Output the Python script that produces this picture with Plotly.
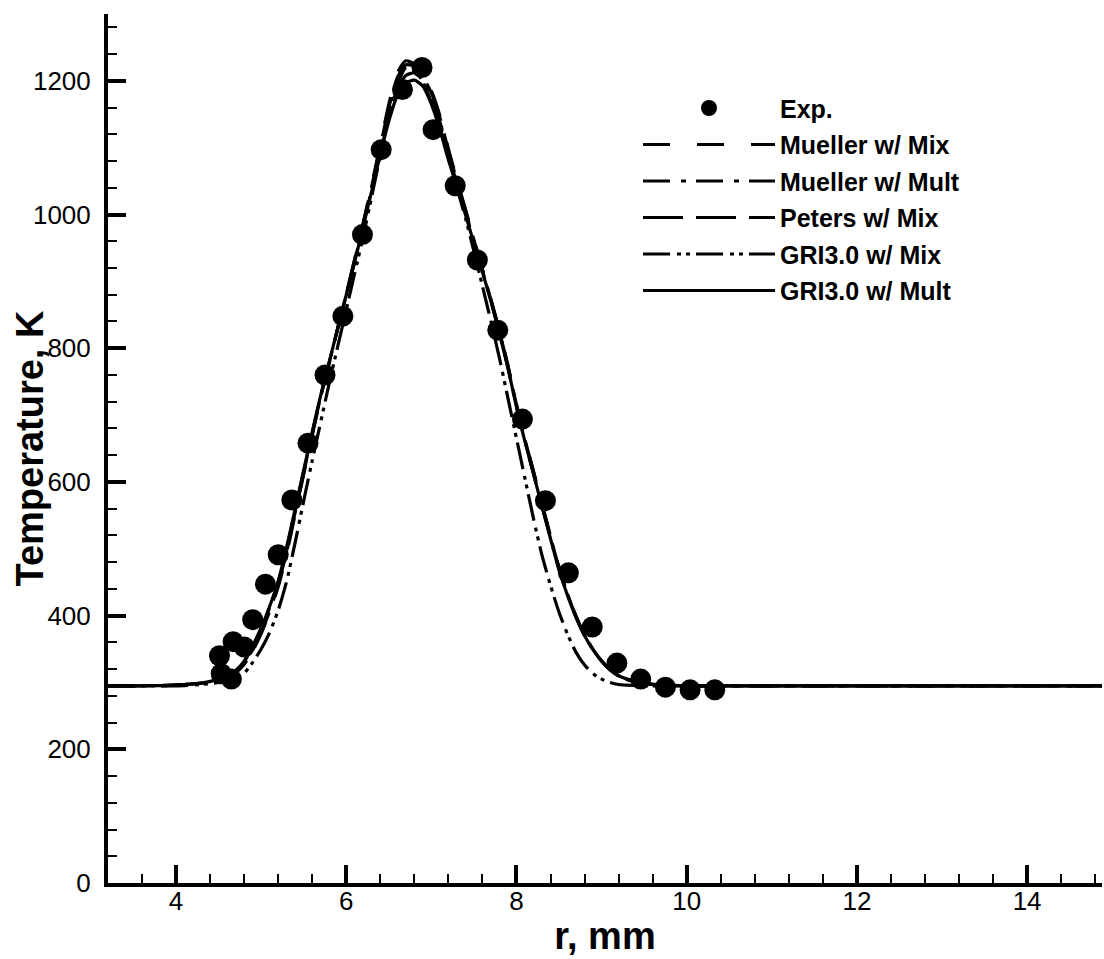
import plotly.graph_objects as go

# ---------------- data ----------------
r_exp = [4.51, 4.53, 4.65, 4.67, 4.80, 4.90, 5.05, 5.20, 5.36, 5.55, 5.75, 5.96, 6.19,
         6.41, 6.66, 6.89, 7.02, 7.28, 7.54, 7.78, 8.07, 8.34, 8.61, 8.89, 9.18, 9.46,
         9.75, 10.04, 10.33]
T_exp = [340, 313, 305, 361, 353, 394, 447, 491, 573, 658, 760, 848, 970,
         1097, 1187, 1220, 1127, 1043, 932, 827, 694, 572, 464, 383, 329, 305,
         293, 289, 289]

r_grid = [3.2, 3.6, 4.0, 4.3, 4.5, 4.6, 4.7, 4.8, 4.9, 5.0, 5.1, 5.2, 5.3, 5.4, 5.5,
          5.6, 5.7, 5.8, 5.9, 6.0, 6.1, 6.2, 6.3, 6.4, 6.5, 6.6, 6.7, 6.8, 6.9, 7.0,
          7.1, 7.2, 7.3, 7.4, 7.5, 7.6, 7.7, 7.8, 7.9, 8.0, 8.1, 8.2, 8.3, 8.4, 8.5,
          8.6, 8.7, 8.8, 8.9, 9.0, 9.1, 9.2, 9.3, 9.45, 9.6, 9.8, 10.0, 11.0, 12.0,
          13.0, 14.88]

T_mueller_mix = [295, 295, 296, 299, 304, 308, 315, 326, 347, 373, 405, 443, 493, 552, 612,
                 670, 727, 778, 830, 882, 934, 988, 1045, 1105, 1165, 1212, 1230, 1225, 1208, 1185,
                 1148, 1098, 1052, 1008, 963, 918, 873, 826, 774, 716, 664, 616, 567, 519, 472,
                 433, 399, 371, 349, 332, 319, 310, 304, 299, 297, 296, 295, 295, 295,
                 295, 295]

T_mueller_mult = [295, 295, 296, 299, 305, 310, 317, 331, 353, 380, 412, 450, 501, 558, 616,
                  673, 728, 779, 830, 880, 931, 984, 1038, 1094, 1146, 1188, 1208, 1212, 1202, 1176,
                  1138, 1090, 1046, 1004, 960, 916, 871, 824, 771, 713, 661, 612, 564, 516, 469,
                  431, 398, 370, 349, 332, 319, 310, 305, 300, 297, 296, 295, 295, 295,
                  295, 295]

T_peters_mix = [295, 295, 296, 299, 304, 308, 315, 327, 348, 375, 407, 446, 496, 555, 614,
                672, 728, 779, 830, 881, 933, 987, 1043, 1102, 1160, 1205, 1224, 1222, 1206, 1182,
                1145, 1096, 1050, 1006, 962, 917, 872, 825, 773, 715, 663, 615, 566, 518, 471,
                432, 399, 371, 349, 332, 319, 310, 304, 299, 297, 296, 295, 295, 295,
                295, 295]

T_gri_mix = [295, 295, 295, 297, 300, 304, 308, 314, 330, 350, 375, 408, 452, 510, 572,
             632, 690, 748, 803, 858, 913, 968, 1028, 1088, 1148, 1194, 1220, 1218, 1198, 1168,
             1128, 1085, 1040, 995, 945, 893, 840, 785, 725, 665, 605, 545, 490, 445, 405,
             372, 345, 326, 313, 305, 300, 297, 296, 295, 295, 295, 295, 295, 295,
             295, 295]

T_gri_mult = [295, 295, 296, 299, 305, 310, 318, 332, 355, 382, 414, 452, 503, 560, 618,
              675, 730, 780, 830, 880, 930, 983, 1036, 1090, 1140, 1178, 1197, 1201, 1192, 1165,
              1127, 1082, 1041, 1000, 957, 914, 870, 822, 770, 712, 660, 612, 563, 515, 468,
              430, 397, 370, 349, 332, 319, 310, 305, 300, 297, 296, 295, 295, 295,
              295, 295]

x_range = [3.2, 14.88]
y_range = [0, 1300]

FONT = "Liberation Sans, Arial, sans-serif"

fig = go.Figure()

fig.add_trace(go.Scatter(
    x=r_exp, y=T_exp, mode="markers", name="Exp.", legendgroup="g0",
    marker=dict(symbol="circle", size=21, color="black", line=dict(width=0)),
))

series = [
    ("Mueller w/ Mix", T_mueller_mix, "27px,27px"),
    ("Mueller w/ Mult", T_mueller_mult, "27px,11px,5px,10px"),
    ("Peters w/ Mix", T_peters_mix, "40px,13px"),
    ("GRI3.0 w/ Mix", T_gri_mix, "27px,7px,4px,5px,4px,6px"),
    ("GRI3.0 w/ Mult", T_gri_mult, "solid"),
]
for i, (name, T, dash) in enumerate(series):
    fig.add_trace(go.Scatter(
        x=r_grid, y=T, mode="lines", name=name, legendgroup=f"g{i+1}",
        line=dict(color="black", width=3.2, dash=dash, shape="spline", smoothing=0.6),
    ))

axis_common = dict(
    showgrid=False, zeroline=False, showline=True, linecolor="black", linewidth=4,
    ticks="inside", ticklen=18, tickwidth=4, tickcolor="black",
    tickfont=dict(family=FONT, size=26, color="black"),
    mirror=False,
)

fig.update_xaxes(
    range=x_range, dtick=2, tick0=0, ticklabelstandoff=-8,
    minor=dict(dtick=0.4, tick0=0, ticks="inside", ticklen=9, tickwidth=2, tickcolor="black"),
    title=dict(text="<b>r, mm</b>", font=dict(family=FONT, size=38, color="black"), standoff=8),
    **axis_common,
)
fig.update_yaxes(
    range=y_range, dtick=200, tick0=0, ticklabelstandoff=8,
    minor=dict(dtick=40, tick0=0, ticks="inside", ticklen=9, tickwidth=2, tickcolor="black"),
    **axis_common,
)

fig.add_annotation(
    text="<b>Temperature, K</b>", textangle=-90, xref="paper", yref="paper",
    x=(29 - 108) / 994, y=0.5, xanchor="center", yanchor="middle", showarrow=False,
    font=dict(family=FONT, size=38, color="black"),
)

fig.update_layout(
    width=1104, height=959,
    margin=dict(l=108, r=2, t=14, b=76),
    paper_bgcolor="white", plot_bgcolor="white",
    showlegend=True,
    legend=dict(
        x=(638 - 108) / 994, y=0.918, xanchor="left", yanchor="top",
        font=dict(family=FONT, size=25, color="black", weight="bold"),
        bgcolor="rgba(0,0,0,0)", borderwidth=0,
        itemwidth=132, traceorder="grouped", tracegroupgap=1,
    ),
)

fig.write_html("out.html")
